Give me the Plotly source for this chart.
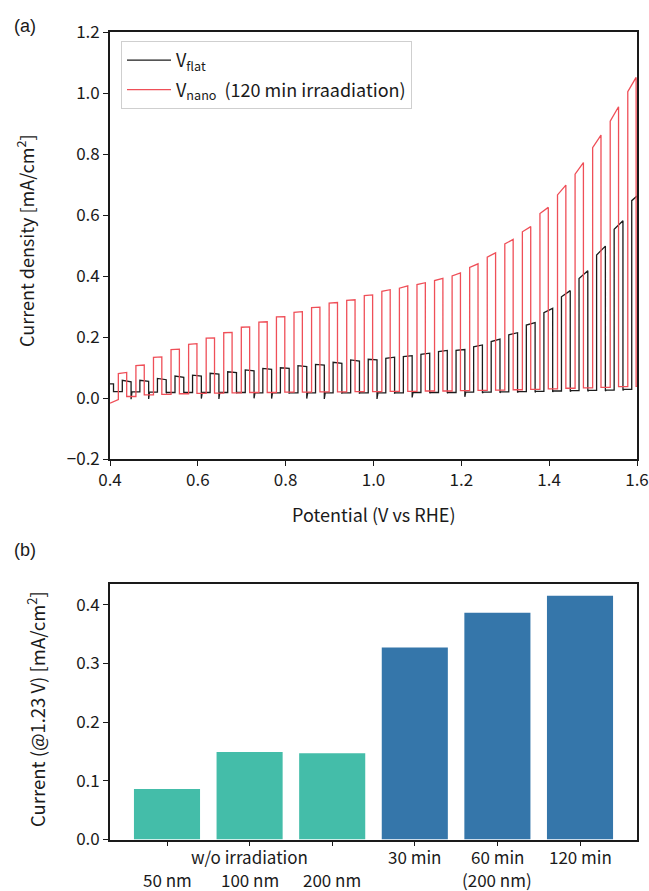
import plotly.graph_objects as go

# ---------------- data: panel (a) chopped-light LSV ----------------
# red curve (V_nano, 120 min irradiation)
RED_START_V = [0.400, 0.419]
RED_START_J = [-0.017, -0.005]
RED_ON_V = [0.419, 0.459, 0.499, 0.539, 0.579, 0.619, 0.659, 0.699, 0.739, 0.779,
            0.819, 0.859, 0.899, 0.939, 0.979, 1.019, 1.059, 1.099, 1.139, 1.179,
            1.219, 1.259, 1.299, 1.339, 1.379, 1.419, 1.459, 1.499, 1.539, 1.579]
RED_OFF_V = [0.438, 0.478, 0.518, 0.558, 0.598, 0.638, 0.678, 0.718, 0.758, 0.798,
             0.838, 0.878, 0.918, 0.958, 0.998, 1.038, 1.078, 1.118, 1.158, 1.198,
             1.238, 1.278, 1.318, 1.358, 1.398, 1.438, 1.478, 1.518, 1.558, 1.598]
RED_ON_START = [0.080, 0.106, 0.133, 0.159, 0.176, 0.196, 0.214, 0.232, 0.249, 0.266,
                0.281, 0.296, 0.311, 0.320, 0.336, 0.350, 0.360, 0.372, 0.385, 0.400,
                0.428, 0.462, 0.505, 0.545, 0.605, 0.666, 0.734, 0.821, 0.908, 1.004]
RED_ON_END = [0.084, 0.108, 0.135, 0.160, 0.178, 0.197, 0.215, 0.233, 0.250, 0.267,
              0.283, 0.298, 0.313, 0.322, 0.338, 0.355, 0.368, 0.378, 0.392, 0.410,
              0.440, 0.476, 0.520, 0.562, 0.625, 0.698, 0.772, 0.862, 0.955, 1.051]
RED_DARK = [0.005, 0.010, 0.012, 0.014, 0.015, 0.016, 0.017, 0.018, 0.018, 0.019,
            0.019, 0.020, 0.020, 0.021, 0.021, 0.022, 0.022, 0.023, 0.023, 0.024,
            0.025, 0.026, 0.027, 0.028, 0.030, 0.032, 0.033, 0.035, 0.037, 0.038]

# black curve (V_flat)
BLK_START_V = [0.400, 0.408, 0.408]
BLK_START_J = [0.046, 0.046, 0.021]
BLK_ON_V = [0.428, 0.468, 0.508, 0.548, 0.588, 0.628, 0.668, 0.708, 0.748, 0.788,
            0.828, 0.868, 0.908, 0.948, 0.988, 1.028, 1.068, 1.108, 1.148, 1.188,
            1.228, 1.268, 1.308, 1.348, 1.388, 1.428, 1.468, 1.508, 1.548, 1.588]
BLK_OFF_V = [0.448, 0.488, 0.528, 0.568, 0.608, 0.648, 0.688, 0.728, 0.768, 0.808,
             0.848, 0.888, 0.928, 0.968, 1.008, 1.048, 1.088, 1.128, 1.168, 1.208,
             1.248, 1.288, 1.328, 1.368, 1.408, 1.448, 1.488, 1.528, 1.568, 1.600]
BLK_ON_START = [0.058, 0.058, 0.064, 0.072, 0.075, 0.081, 0.086, 0.092, 0.097, 0.099,
                0.106, 0.110, 0.117, 0.125, 0.127, 0.130, 0.136, 0.143, 0.152, 0.156,
                0.168, 0.185, 0.207, 0.239, 0.280, 0.332, 0.392, 0.469, 0.553, 0.647]
BLK_ON_END = [0.053, 0.055, 0.060, 0.068, 0.072, 0.078, 0.083, 0.089, 0.094, 0.097,
              0.103, 0.108, 0.114, 0.121, 0.125, 0.134, 0.139, 0.147, 0.156, 0.159,
              0.174, 0.193, 0.214, 0.247, 0.294, 0.352, 0.417, 0.498, 0.581, 0.662]
BLK_DIP = [-0.004, -0.003, 0.016, 0.016, -0.002, -0.003, 0.016, -0.001, -0.002, 0.016,
           -0.002, -0.003, 0.016, 0.016, -0.003, 0.016, 0.002, 0.016, 0.016, 0.004,
           0.016, 0.017, 0.018, 0.019, 0.020, 0.021, 0.022, 0.023, 0.025, 0.028]
BLK_DARK = [0.020, 0.019, 0.018, 0.018, 0.018, 0.018, 0.018, 0.017, 0.017, 0.017,
            0.017, 0.017, 0.017, 0.017, 0.017, 0.017, 0.018, 0.018, 0.018, 0.019,
            0.019, 0.020, 0.021, 0.022, 0.023, 0.024, 0.025, 0.026, 0.028, 0.030]
SCAN_END = 1.6

# ---------------- data: panel (b) bars ----------------
BAR_LINE1 = ["", "w/o irradiation", "", "30 min", "60 min", "120 min"]
BAR_LINE2 = ["50 nm", "100 nm", "200 nm", "", "(200 nm)", ""]
BAR_VALUES = [0.086, 0.149, 0.147, 0.327, 0.386, 0.415]
BAR_GROUP = ["none", "none", "none", "irr", "irr", "irr"]

TEAL = "#44bda9"
BLUE = "#3576aa"
RED = "#ef4f58"
BLACK = "#1c1c1c"
INK = "#1a1a1a"
FONT = "Noto Sans CJK JP"
H = 891.0


def build(start_v, start_j, on_v, off_v, on_s, on_e, dark, dip=None):
    xs, ys = list(start_v), list(start_j)
    prev = ys[-1]
    for k in range(len(on_v)):
        xs += [on_v[k], on_v[k], off_v[k]]
        ys += [prev, on_s[k], on_e[k]]
        if off_v[k] < SCAN_END:
            if dip is not None:
                xs += [off_v[k], off_v[k] + 0.002]
                ys += [dip[k], dark[k]]
            else:
                xs += [off_v[k]]
                ys += [dark[k]]
        prev = dark[k]
    if xs[-1] < SCAN_END:
        xs.append(SCAN_END)
        ys.append(prev)
    return xs, ys


bx, by = build(BLK_START_V, BLK_START_J, BLK_ON_V, BLK_OFF_V, BLK_ON_START,
               BLK_ON_END, BLK_DARK, BLK_DIP)
rx, ry = build(RED_START_V, RED_START_J, RED_ON_V, RED_OFF_V, RED_ON_START,
               RED_ON_END, RED_DARK)

fig = go.Figure()
fig.add_trace(go.Scatter(x=bx, y=by, mode="lines", line=dict(color=BLACK, width=1.3),
                         name="V<sub>flat</sub>", legendgroup="a", xaxis="x", yaxis="y"))
fig.add_trace(go.Scatter(x=rx, y=ry, mode="lines", line=dict(color=RED, width=1.3),
                         name="V<sub>nano</sub>  (120 min irraadiation)", legendgroup="b",
                         xaxis="x", yaxis="y"))

xpos = list(range(len(BAR_VALUES)))
fig.add_trace(go.Bar(x=xpos, y=BAR_VALUES, width=0.8,
                     marker=dict(color=[TEAL if g == "none" else BLUE for g in BAR_GROUP],
                                 line=dict(width=0)),
                     showlegend=False, xaxis="x2", yaxis="y2"))

axis_common = dict(showline=True, linecolor=INK, linewidth=1.6, mirror=True,
                   ticks="outside", ticklen=5, tickwidth=1.3, tickcolor=INK,
                   showgrid=False, zeroline=False, automargin=False,
                   tickfont=dict(family=FONT, size=17, color=INK))

XDOM = [110 / 649, 637 / 649]

annotations = [
    dict(text="(a)", x=12 / 649, y=1 - 26 / H, xref="paper", yref="paper",
         xanchor="left", yanchor="middle", showarrow=False,
         font=dict(family="Liberation Sans", size=18)),
    dict(text="(b)", x=12 / 649, y=1 - 550 / H, xref="paper", yref="paper",
         xanchor="left", yanchor="middle", showarrow=False,
         font=dict(family="Liberation Sans", size=18)),
    dict(text="Potential (V vs RHE)", x=373.5 / 649, y=1 - 514 / H, xref="paper",
         yref="paper", xanchor="center", yanchor="middle", showarrow=False),
    dict(text="Current density [mA/cm<sup>2</sup>]", x=25 / 649, y=1 - 241 / H,
         xref="paper", yref="paper", xanchor="center", yanchor="middle",
         textangle=-90, showarrow=False),
    dict(text="Current (@1.23 V) [mA/cm<sup>2</sup>]", x=36 / 649, y=1 - 709 / H,
         xref="paper", yref="paper", xanchor="center", yanchor="middle",
         textangle=-90, showarrow=False, font=dict(size=18.5)),
]
# two-row category labels under the bars
for i, (a, b) in enumerate(zip(BAR_LINE1, BAR_LINE2)):
    if a:
        annotations.append(dict(text=a, x=i, y=1 - 856 / H, xref="x2", yref="paper",
                                xanchor="center", yanchor="middle", showarrow=False,
                                borderpad=0, font=dict(size=17)))
    if b:
        annotations.append(dict(text=b, x=i, y=1 - 879.5 / H, xref="x2", yref="paper",
                                xanchor="center", yanchor="middle", showarrow=False,
                                borderpad=0, font=dict(size=17)))

fig.update_layout(
    width=649, height=891,
    margin=dict(l=0, r=0, t=0, b=0, autoexpand=False),
    paper_bgcolor="white", plot_bgcolor="white",
    font=dict(family=FONT, size=18, color=INK),
    xaxis=dict(domain=XDOM, range=[0.4, 1.6], anchor="y",
               tickvals=[0.4, 0.6, 0.8, 1.0, 1.2, 1.4, 1.6], tickformat=".1f", **axis_common),
    yaxis=dict(domain=[1 - 459 / H, 1 - 32 / H], range=[-0.2, 1.2], anchor="x",
               tickvals=[-0.2, 0.0, 0.2, 0.4, 0.6, 0.8, 1.0, 1.2], tickformat=".1f", **axis_common),
    xaxis2=dict(domain=XDOM, range=[-0.69, 5.69], anchor="y2",
                tickvals=xpos, showticklabels=False, **axis_common),
    yaxis2=dict(domain=[1 - 839.5 / H, 1 - 583.5 / H], range=[0, 0.436], anchor="x2",
                tickvals=[0.0, 0.1, 0.2, 0.3, 0.4], tickformat=".1f", **axis_common),
    legend=dict(x=121 / 649, y=1 - 41 / H, xanchor="left", yanchor="top",
                bgcolor="rgba(255,255,255,0.9)", bordercolor="#cfcfcf", borderwidth=1,
                font=dict(family=FONT, size=18, color=INK), tracegroupgap=3,
                itemwidth=44),
    bargap=0.2,
    annotations=annotations,
)

fig.write_html("out.html", config={"displayModeBar": False},
               post_script="document.body.style.margin='0';")
